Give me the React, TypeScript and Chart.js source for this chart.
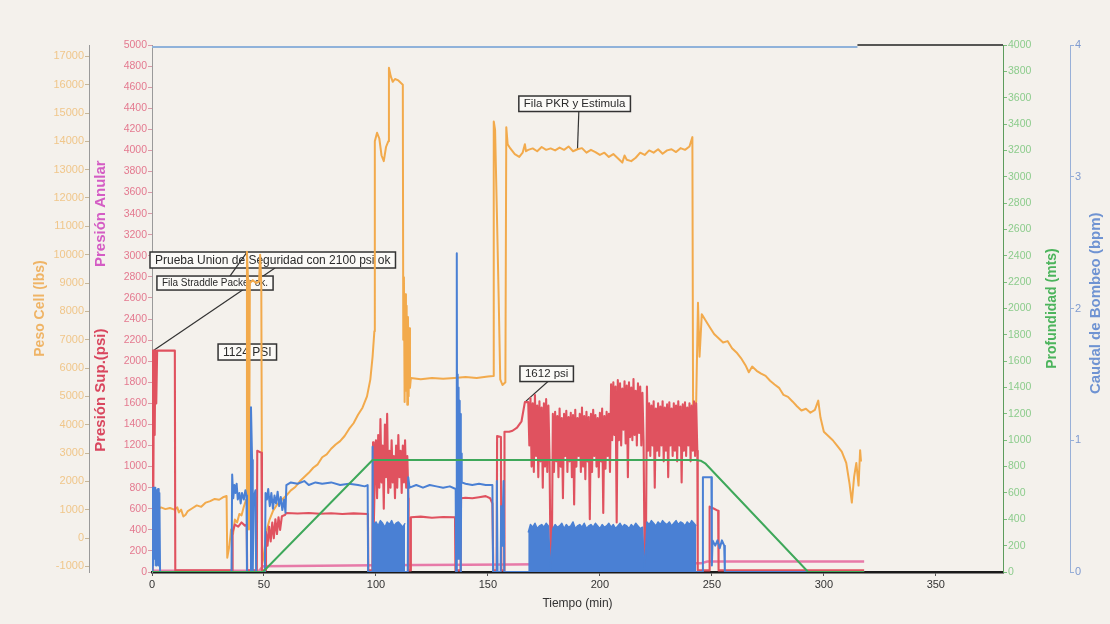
import React, { useEffect, useRef } from "react";
import { Chart, registerables } from "chart.js";

Chart.register(...registerables);

// ---------- tick labels ----------
const timeTicks = [0, 50, 100, 150, 200, 250, 300, 350];
const pesoTicks = [-1000, 0, 1000, 2000, 3000, 4000, 5000, 6000, 7000, 8000, 9000, 10000, 11000, 12000, 13000, 14000, 15000, 16000, 17000];
const presionTicks = [0, 200, 400, 600, 800, 1000, 1200, 1400, 1600, 1800, 2000, 2200, 2400, 2600, 2800, 3000, 3200, 3400, 3600, 3800, 4000, 4200, 4400, 4600, 4800, 5000];
const profTicks = [0, 200, 400, 600, 800, 1000, 1200, 1400, 1600, 1800, 2000, 2200, 2400, 2600, 2800, 3000, 3200, 3400, 3600, 3800, 4000];
const caudalTicks = [0, 1, 2, 3, 4];

// ---------- Peso Cell (lbs) [min, lbs] ----------
const pesoCell: [number, number][] = [
  [1, 1050], [2.5, 1000], [4, 1080], [6, 1020], [8, 1060], [10, 1000], [11.3, 1080], [12, 900], [13, 1000], [14, 760], [15, 820], [16, 950], [18, 1050], [20, 1150], [22, 1100], [24, 1250], [26, 1300], [28, 1380], [30, 1350], [32, 1450], [33.3, 1480],
  [33.6, -700], [34.5, -300], [35.3, 300], [36.2, 150], [37, 650], [38, 550], [39, 850], [40, 800], [41, 1100], [42, 1350],
  [42.4, 10100], [42.9, 9100], [43.3, 300], [43.7, 9000], [45, 9100], [46.5, 9000], [47.8, 9050], [48.3, 10000], [48.8, 9000], [49.2, -900],
  [50, -600], [51, 200], [52.5, 650], [54, 950], [56, 1200], [58, 1350], [60, 1500], [62, 1680], [64, 1800], [66, 2000], [68, 2150], [70, 2300], [72, 2480], [74, 2600], [76, 2850], [78, 2950], [80, 3150], [82, 3300], [84, 3420], [86, 3600], [88, 3850], [90, 4050], [92, 4350], [94, 4600], [96, 5000], [97.5, 5600], [98.5, 6400], [99.3, 7300],
  [99.5, 14000], [100.5, 14300], [101.5, 14100], [102.5, 13500], [103.5, 13300], [104.5, 13800], [105.5, 14000], [105.8, 16600], [106.6, 16300], [107.5, 16100], [108.5, 16200], [110, 16150], [111.3, 16050], [112, 16000],
  [112.2, 7000], [112.5, 9200], [112.8, 4800], [113.1, 8600], [113.4, 5200], [113.7, 8200], [114, 4700], [114.3, 7800], [114.6, 5000], [114.9, 7400], [115.2, 5300], [115.6, 5650],
  [120, 5600], [125, 5650], [130, 5620], [135, 5650], [140, 5680], [145, 5650], [150, 5700], [152.3, 5720],
  [152.6, 14700], [153.2, 14400], [154, 11500], [154.8, 8500], [155.5, 5600], [156.5, 5400], [157.8, 5500], [158.2, 14500], [158.8, 13900],
  [160, 13750], [162, 13550], [164, 13450], [165.5, 13600], [166.5, 13900], [167, 13650], [168, 13700], [170, 13750], [172, 13650], [174, 13800], [176, 13700], [178, 13750], [180, 13680], [182, 13780], [184, 13700], [186, 13820], [188, 13650], [190, 13720], [192, 13760], [194, 13600], [196, 13700], [198, 13620], [200, 13520], [202, 13600], [204, 13450], [206, 13550], [208, 13400], [210, 13250], [211, 13500], [212, 13350], [214, 13300], [216, 13420], [218, 13600], [220, 13520], [222, 13680], [224, 13600], [226, 13720], [228, 13560], [230, 13680], [232, 13720], [234, 13620], [236, 13760], [238, 13700], [240, 13820], [241.3, 14150],
  [241.6, 4700], [243, 4800], [243.8, 8300], [244.5, 6400], [245.5, 7900], [247, 7700], [249, 7450], [251, 7200], [253, 7050], [255, 6900], [257, 6950], [259, 6700], [261, 6550], [263, 6350], [265, 6100], [266.5, 5850], [268, 6050], [270, 5900], [272, 5800], [274, 5720], [276, 5550], [278, 5420], [280, 5300], [282, 5050], [284, 4980], [286, 4820], [288, 4650], [290, 4500], [292, 4560], [294, 4420], [296, 4520], [297.5, 4850], [298.5, 4250], [300, 3750], [302, 3600], [304, 3450], [306, 3250], [308, 3050], [310, 2650], [311.5, 1900], [312.5, 1250], [313.5, 2150], [314.5, 2650], [315.5, 1850], [316.2, 3100], [316.6, 2700],
];

// ---------- Presión Sup. (psi) ----------
const presionSupA: [number, number][] = [
  [0, 0], [0.3, 2100], [0.6, 800], [0.9, 2100], [1.2, 1300], [1.5, 2100], [1.9, 1600], [2.3, 2100], [10.2, 2100], [10.4, 15], [20, 15], [35.8, 15],
  [36, 380], [37, 450], [38.5, 430], [40, 470], [41.5, 440], [42.3, 450], [42.5, 15], [46.8, 15], [47, 1150], [48.9, 1130], [49.1, 15], [50.6, 15],
  [50.9, 380], [51.6, 250], [52.3, 430], [53, 290], [53.7, 470], [54.4, 320], [55.1, 500], [55.8, 360], [56.5, 520], [57.2, 400], [58, 530], [59.3, 540],
  [60, 560], [65, 555], [70, 560], [75, 552], [80, 558], [85, 550], [90, 556], [96.4, 550], [96.6, 15], [98.4, 15], [98.7, 1230], [99, 400], [99.5, 900],
];
const presionBand1Hi = [1250, 1300, 1450, 1200, 1400, 1500, 1150, 1250, 1100, 1200, 1300, 1150, 1200, 1250, 1100];
const presionBand1Lo = [700, 800, 850, 600, 900, 750, 800, 850, 700, 800, 900, 750, 850, 800, 700];
const presionSupB: [number, number][] = [
  [114.6, 15], [115.4, 15], [115.6, 520], [120, 525], [125, 515], [130, 522], [135.3, 520], [135.5, 15], [137.8, 15],
  [138, 700], [140, 705], [143, 700], [146, 710], [149, 720], [151, 700], [152, 650], [152.4, 15], [153.9, 15], [154.1, 1290], [155.8, 1280], [156, 15],
  [157.2, 15], [157.4, 1330], [159.5, 1330], [161, 1340], [163, 1370], [165, 1430], [166.5, 1612],
];
const presionBand2Hi = [
  1612, 1650, 1600, 1680, 1580, 1620, 1560, 1600, 1640, 1580, 20, 1500, 1520, 1480, 1550, 1460, 1500, 1530, 1470, 1510,
  1490, 1540, 1460, 1500, 1560, 1480, 1520, 1470, 1500, 1540, 1490, 1460, 1510, 1550, 1480, 1520, 1500, 1780, 1800, 1760,
  1820, 1790, 1740, 1810, 1770, 1800, 1750, 1830, 1720, 1790, 1760, 1700, 20, 1760, 1600, 1580, 1620, 1550, 1600, 1570,
  1620, 1560, 1590, 1610, 1550, 1600, 1580, 1620, 1570, 1590, 1610, 1560, 1600, 1580, 1620, 1600,
];
const presionBand2Lo = [
  1200, 1000, 950, 1100, 900, 1050, 800, 1000, 950, 1100, 20, 950, 1050, 900, 1000, 700, 1100, 950, 1050, 900,
  640, 1000, 1100, 950, 1000, 880, 1050, 500, 950, 1100, 1000, 900, 1050, 560, 980, 1100, 950, 1250, 1300, 470,
  1250, 1200, 1350, 1220, 900, 1280, 1250, 1300, 1200, 1320, 1200, 1250, 20, 1150, 1100, 1200, 800, 1150, 1100, 1200,
  1050, 1150, 900, 1200, 1100, 1150, 1050, 1200, 850, 1150, 1100, 1200, 1050, 1150, 1100, 1150,
];
const presionSupC: [number, number][] = [
  [243.7, 15], [248.8, 15], [249, 620], [251, 600], [252.8, 580], [253, 15], [318, 15],
];

// ---------- Presión Anular (psi) ----------
const presionAnular: [number, number][] = [
  [0, 12], [48, 15], [49.5, 55], [100, 65], [160, 72], [200, 78], [245, 82], [248, 100], [318, 100],
];

// ---------- Profundidad (mts) ----------
const profundidad: [number, number][] = [
  [0, 0], [49.5, 0], [98.5, 850], [243, 850], [245, 845], [247, 825], [293, 0], [318, 0],
];

// ---------- Caudal de Bombeo (bpm) ----------
const caudalA: [number, number][] = [
  [0, 0], [0.3, 0.64], [0.6, 0.05], [0.9, 0.64], [1.2, 0.1], [1.5, 0.64], [1.8, 0.05], [2.1, 0.62], [2.4, 0.08], [2.7, 0.63], [3, 0.05], [3.3, 0.6], [3.6, 0],
  [35.5, 0], [35.8, 0.74], [36.3, 0.56], [36.8, 0.66], [37.3, 0.6], [37.8, 0.67], [38.3, 0.55], [39, 0.6], [39.6, 0.52], [40.2, 0.6], [41, 0.55], [41.7, 0.62], [42.2, 0.58], [42.4, 0],
  [44, 0], [44.2, 1.25], [44.7, 0.85], [45, 0], [45.4, 0.56], [46.2, 0.62], [46.5, 0], [50.4, 0],
  [50.7, 0.6], [51.3, 0.55], [51.9, 0.63], [52.6, 0.5], [53.3, 0.6], [54, 0.48], [54.7, 0.58], [55.4, 0.52], [56.1, 0.61], [56.8, 0.5], [57.5, 0.57], [58.2, 0.47], [59, 0.55], [59.6, 0.45],
  [60, 0.66], [62, 0.68], [65, 0.67], [68, 0.69], [70, 0.66], [73, 0.68], [76, 0.67], [80, 0.68], [84, 0.66], [88, 0.67], [92, 0.66], [95, 0.65], [96.3, 0.66], [96.5, 0],
  [98.3, 0], [98.5, 0.95], [98.8, 0],
];
const caudalB: [number, number][] = [
  [113.5, 0], [114.2, 0], [114.4, 0.72], [115, 0.64], [118, 0.66], [121, 0.64], [124, 0.66], [127, 0.65], [130, 0.64], [133, 0.65], [135.6, 0.63], [135.8, 0],
  [136.1, 2.42], [136.3, 0.1], [136.5, 1.5], [136.7, 0.2], [136.9, 1.4], [137.1, 0.1], [137.3, 1.3], [137.5, 0.3], [137.7, 1.2], [137.9, 0], [138.1, 0.9], [138.3, 0.68],
  [140, 0.67], [143, 0.66], [146, 0.67], [149, 0.66], [152, 0.66], [152.3, 0], [153.8, 0], [154, 0.69], [154.3, 0],
  [155.7, 0], [155.9, 0.5], [156.3, 0.2], [156.6, 0.4], [157, 0.69], [157.3, 0], [168, 0],
];
const caudalC: [number, number][] = [
  [243.5, 0], [245.8, 0], [246, 0.72], [249.8, 0.72], [250, 0.05], [250.3, 0.24], [251.5, 0.2], [252.5, 0.24], [253.5, 0.18], [254.5, 0.24], [255.5, 0.2], [255.8, 0], [318, 0],
];
const caudalBand1 = [0.36, 0.38, 0.35, 0.39, 0.37, 0.34, 0.38, 0.36, 0.39, 0.35, 0.37, 0.38, 0.36, 0.34, 0.37];
const caudalBand2 = [
  0.3, 0.36, 0.34, 0.37, 0.33, 0.35, 0.36, 0.34, 0.37, 0.35, 0, 0.33, 0.36, 0.34, 0.35, 0.37, 0.33, 0.36, 0.34, 0.35,
  0.38, 0.33, 0.35, 0.36, 0.34, 0.37, 0.33, 0.35, 0.36, 0.34, 0.37, 0.35, 0.33, 0.36, 0.34, 0.35, 0.37, 0.34, 0.36, 0.33,
  0.35, 0.37, 0.34, 0.36, 0.35, 0.33, 0.36, 0.34, 0.37, 0.35, 0.33, 0.34, 0, 0.38, 0.36, 0.39, 0.37, 0.35, 0.38, 0.36,
  0.39, 0.37, 0.36, 0.38, 0.35, 0.37, 0.39, 0.36, 0.38, 0.37, 0.35, 0.38, 0.36, 0.39, 0.37, 0.35,
];
const caudalTopA: [number, number][] = [[0, 3.985], [315, 3.985]];
const caudalTopB: [number, number][] = [[315, 4], [380, 4]];

// ---------- annotations ----------
const notes = [
  { text: "Prueba Union de Seguridad con 2100 psi ok", t: -0.9, p: 3036, size: 12, from: { dx: 125, edge: "bottom" }, to: { t: 0.5, axis: "yP", v: 2100 } },
  { text: "Fila Straddle Packer ok.", t: 2.2, p: 2808, size: 10, from: { dx: 73, edge: "top" }, to: { t: 42.5, axis: "yPeso", v: 10100 } },
  { text: "1124 PSI", t: 29.5, p: 2163, size: 12, from: null, to: null },
  { text: "Fila PKR y Estimula", t: 163.8, p: 4516, size: 11.5, from: { dx: 60, edge: "bottom" }, to: { t: 190, axis: "yPeso", v: 13720 } },
  { text: "1612 psi", t: 164.3, p: 1954, size: 11.5, from: { dx: 28, edge: "bottom" }, to: { t: 166.5, axis: "yP", v: 1612 } },
];

const FAMILY = "'Liberation Sans', Arial, Helvetica, sans-serif";
const PAPER = "#f4f1ec";

const pts = (arr: [number, number][]) => arr.map(([x, y]) => ({ x, y }));
const interleave = (start: number, hi: number[], lo: number[]) =>
  hi.flatMap((h, i) => [{ x: start + i, y: h }, { x: start + i + 0.5, y: lo[i] }]);
const perMinute = (start: number, vals: number[]) => vals.map((v, i) => ({ x: start + i, y: v }));

const bgPlugin = {
  id: "paper",
  beforeDraw(chart: any) {
    const { ctx, width, height } = chart;
    ctx.save();
    ctx.fillStyle = PAPER;
    ctx.fillRect(0, 0, width, height);
    ctx.restore();
  },
};

const notesPlugin = {
  id: "notes",
  beforeDatasetsDraw(chart: any) {
    const { ctx, scales } = chart;
    ctx.save();
    for (const n of notes) {
      ctx.font = `${n.size}px ${FAMILY}`;
      const w = ctx.measureText(n.text).width + 10;
      const h = n.size + 4;
      const left = scales.x.getPixelForValue(n.t);
      const top = scales.yP.getPixelForValue(n.p);
      if (n.from && n.to) {
        const fx = left + n.from.dx;
        const fy = n.from.edge === "top" ? top : top + h;
        const tx = scales.x.getPixelForValue(n.to.t);
        const ty = scales[n.to.axis].getPixelForValue(n.to.v);
        ctx.strokeStyle = "#333";
        ctx.lineWidth = 1.2;
        ctx.beginPath();
        ctx.moveTo(fx, fy);
        ctx.lineTo(tx, ty);
        ctx.stroke();
      }
      ctx.fillStyle = "#fbfaf7";
      ctx.fillRect(left, top, w, h);
      ctx.strokeStyle = "#333";
      ctx.lineWidth = 1.5;
      ctx.strokeRect(left, top, w, h);
      ctx.fillStyle = "#2a2a2a";
      ctx.textBaseline = "middle";
      ctx.textAlign = "left";
      ctx.fillText(n.text, left + 5, top + h / 2 + 0.5);
    }
    ctx.restore();
  },
};

const titlesPlugin = {
  id: "sideTitles",
  afterDraw(chart: any) {
    const { ctx, chartArea, scales } = chart;
    const hgt = chartArea.bottom - chartArea.top;
    const draw = (text: string, x: number, y: number, color: string, size: number) => {
      ctx.save();
      ctx.translate(x, y);
      ctx.rotate(-Math.PI / 2);
      ctx.font = `bold ${size}px ${FAMILY}`;
      ctx.fillStyle = color;
      ctx.textAlign = "center";
      ctx.textBaseline = "middle";
      ctx.fillText(text, 0, 0);
      ctx.restore();
    };
    draw("Peso Cell (lbs)", scales.yPeso.left + 40, chartArea.top + hgt * 0.5, "#efb466", 14);
    draw("Presión Anular", scales.yP.left + 12, chartArea.top + hgt * 0.32, "#d45cc4", 15);
    draw("Presión Sup.(psi)", scales.yP.left + 12, chartArea.top + hgt * 0.655, "#d9465e", 15);
    draw("Profundidad (mts)", scales.yDepth.left + 49, chartArea.top + hgt * 0.5, "#4cb45c", 14);
    draw("Caudal de Bombeo (bpm)", scales.yQ.left + 26, chartArea.top + hgt * 0.49, "#6f93d2", 15);
  },
};

const yAxis = (opts: any) => ({
  type: "linear",
  min: opts.min,
  max: opts.max,
  position: opts.position,
  weight: opts.weight,
  afterBuildTicks: (s: any) => {
    s.ticks = opts.ticks.map((v: number) => ({ value: v }));
  },
  afterFit: (s: any) => {
    s.width = opts.width;
  },
  grid: { drawOnChartArea: false, drawTicks: true, tickLength: 4, color: opts.tickColor, lineWidth: 1 },
  border: { display: true, color: opts.borderColor, width: opts.borderWidth ?? 1, dash: opts.dash ?? [] },
  ticks: {
    color: opts.labelColor,
    font: { family: FAMILY, size: opts.fontSize ?? 11 },
    padding: 1,
    autoSkip: false,
    callback: (v: any) => String(v),
  },
  title: { display: false },
});

export default function App() {
  const ref = useRef<HTMLCanvasElement>(null);

  useEffect(() => {
    document.body.style.margin = "0";
    document.body.style.background = PAPER;
    const presionSup = [
      ...pts(presionSupA),
      ...interleave(100, presionBand1Hi, presionBand1Lo),
      ...pts(presionSupB),
      ...interleave(168, presionBand2Hi, presionBand2Lo),
      ...pts(presionSupC),
    ];
    const caudal = [...pts(caudalA), ...pts(caudalB), ...pts(caudalC)];
    const line = { pointRadius: 0, tension: 0, borderJoinStyle: "round", fill: false };

    const chart = new Chart(ref.current as HTMLCanvasElement, {
      type: "line",
      data: {
        datasets: [
          { ...line, label: "Profundidad (mts)", data: pts(profundidad), yAxisID: "yDepth", borderColor: "#3ea85a", borderWidth: 2, order: 1 },
          { ...line, label: "Caudal de Bombeo (bpm)", data: caudal, yAxisID: "yQ", borderColor: "#4a80d4", borderWidth: 2, order: 2 },
          { ...line, label: "Caudal banda 1", data: perMinute(99, caudalBand1), yAxisID: "yQ", borderColor: "#4a80d4", backgroundColor: "#4a80d4", borderWidth: 1.5, fill: "origin", order: 2 },
          { ...line, label: "Caudal banda 2", data: perMinute(168, caudalBand2), yAxisID: "yQ", borderColor: "#4a80d4", backgroundColor: "#4a80d4", borderWidth: 1.5, fill: "origin", order: 2 },
          { ...line, label: "Presión Sup. (psi)", data: presionSup, yAxisID: "yP", borderColor: "#e0525f", borderWidth: 2.1, order: 3 },
          { ...line, label: "Peso Cell (lbs)", data: pts(pesoCell), yAxisID: "yPeso", borderColor: "#f2aa4c", borderWidth: 2, order: 4 },
          { ...line, label: "Presión Anular", data: pts(presionAnular), yAxisID: "yP", borderColor: "#e77aa8", borderWidth: 2.5, order: 5 },
          { ...line, label: "tope A", data: pts(caudalTopA), yAxisID: "yQ", borderColor: "#8fb2da", borderWidth: 2, order: 6, clip: false },
          { ...line, label: "tope B", data: pts(caudalTopB), yAxisID: "yQ", borderColor: "#222", borderWidth: 1.5, order: 6, clip: false },
        ] as any,
      },
      options: {
        responsive: false,
        animation: false,
        events: [],
        layout: { padding: { top: 45, bottom: 10, left: 0, right: 0 } },
        plugins: { legend: { display: false }, tooltip: { enabled: false }, title: { display: false } },
        scales: {
          x: {
            type: "linear",
            min: 0,
            max: 380,
            afterBuildTicks: (s: any) => {
              s.ticks = timeTicks.map((v) => ({ value: v }));
            },
            afterFit: (s: any) => {
              s.height = 42;
            },
            grid: { drawOnChartArea: false, drawTicks: true, tickLength: 4, color: "#555" },
            border: { display: true, color: "#1a1a1a", width: 2.5 },
            ticks: { color: "#333", font: { family: FAMILY, size: 11 }, padding: 2, maxRotation: 0, autoSkip: false, callback: (v: any) => String(v) },
            title: { display: true, text: "Tiempo (min)", color: "#333", font: { family: FAMILY, size: 12 }, padding: { top: 2, bottom: 3 } },
          },
          yPeso: yAxis({ min: -1200, max: 17400, position: "left", weight: 2, ticks: pesoTicks, width: 89, tickColor: "#c9b89a", borderColor: "#9a9a9a", dash: [1, 2], labelColor: "#f0c68a" }),
          yP: yAxis({ min: 0, max: 5000, position: "left", weight: 1, ticks: presionTicks, width: 63, tickColor: "#d99aa8", borderColor: "#9a9a9a", dash: [1, 1], labelColor: "#e4798f", fontSize: 10.5 }),
          yDepth: yAxis({ min: 0, max: 4000, position: "right", weight: 1, ticks: profTicks, width: 67, tickColor: "#7cbf7c", borderColor: "#5c9c5c", labelColor: "#8ccc8c", fontSize: 10.5 }),
          yQ: yAxis({ min: 0, max: 4, position: "right", weight: 2, ticks: caudalTicks, width: 40, tickColor: "#98b0d8", borderColor: "#98b0d8", labelColor: "#7f9bd0" }),
        },
      } as any,
      plugins: [bgPlugin, notesPlugin, titlesPlugin],
    });
    return () => chart.destroy();
  }, []);

  return <canvas ref={ref} width={1110} height={624} style={{ display: "block", width: 1110, height: 624 }} />;
}
